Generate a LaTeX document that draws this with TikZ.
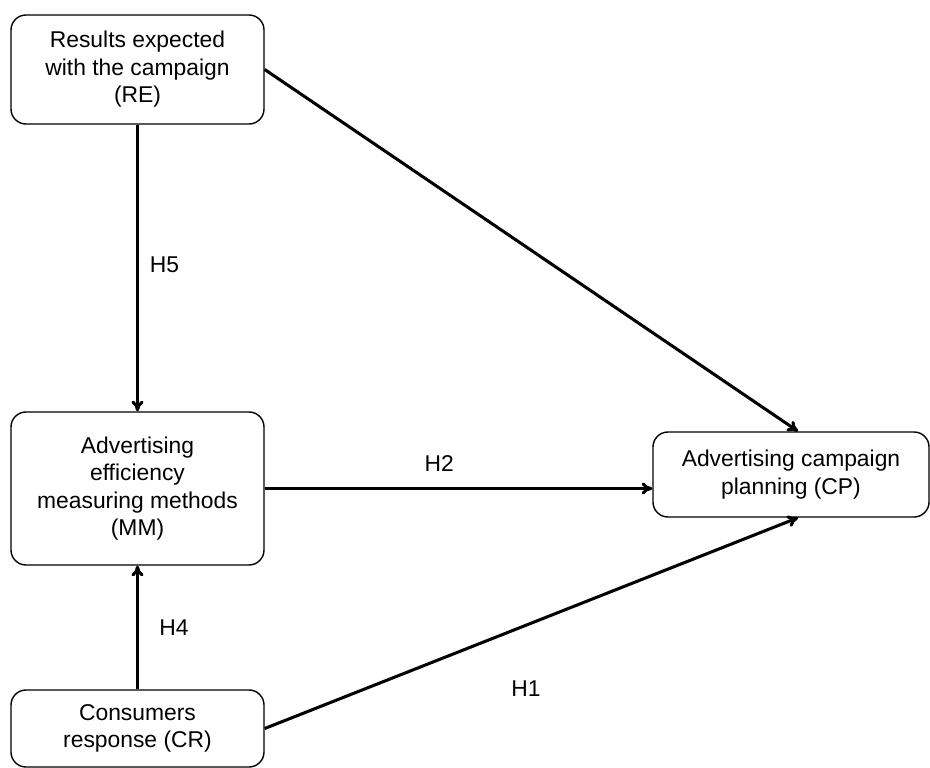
\documentclass[tikz,border=0pt]{standalone}
\usepackage{fontspec}
\setmainfont{Liberation Sans}
\usetikzlibrary{arrows.meta,calc}

\begin{document}
\begin{tikzpicture}[
        x=0.03cm,
        y=-0.03cm,
        box/.style={draw, line width=1.2pt, rounded corners=0.45cm, fill=white,
                    align=center, inner sep=2pt,
                    font=\fontsize{19.5}{23.5}\selectfont},
        link/.style={-{To[length=3.2mm, width=3.6mm, line width=2.6pt]}, line width=2.6pt},
        hyp/.style={font=\fontsize{19.5}{23.5}\selectfont}
    ]
        \useasboundingbox (0,0) rectangle (930,768);

        \node[box, minimum width=7.59cm, minimum height=3.27cm] (RE) at (137.5,69.5)
            {Results expected\\with the campaign\\(RE)};
        \node[box, minimum width=7.59cm, minimum height=4.59cm] (MM) at (137.5,488.5)
            {Advertising\\efficiency\\measuring methods\\(MM)};
        \node[box, minimum width=7.59cm, minimum height=2.31cm] (CR) at (137.5,728.5)
            {Consumers\\response (CR)};
        \node[box, minimum width=8.28cm, minimum height=2.55cm] (CP) at (791,474.5)
            {Advertising campaign\\planning (CP)};

        % hypotheses
        \draw[link] (RE) -- node[hyp, pos=0.49, right=6pt] {H5} (MM);
        \draw[link] (CR) -- node[hyp, pos=0.5, right=14pt] {H4} (MM);
        \draw[link] (MM.east) -- node[hyp, pos=0.45, above=10pt] {H2} (MM.east -| CP.west);
        \draw[link] (RE.east) -- ([xshift=6]CP.north);
        \draw[link] (CR.east) -- node[hyp, pos=0.49, below=1.5cm] {H1} ([xshift=6]CP.south);
    \end{tikzpicture}
\end{document}
